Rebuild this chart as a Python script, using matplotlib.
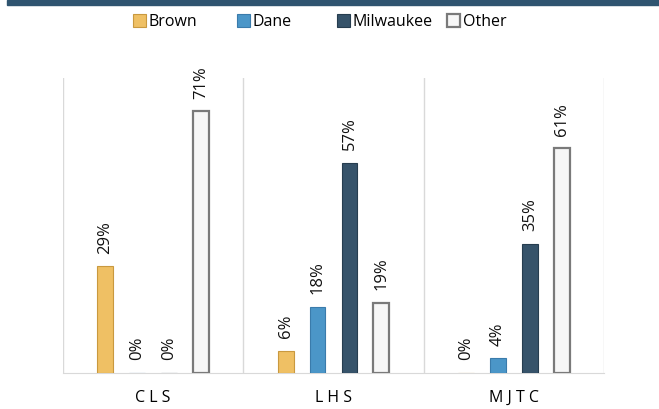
import numpy as np
import matplotlib
matplotlib.use('Agg')
import matplotlib.pyplot as plt
from matplotlib.patches import Rectangle

plt.rcParams['font.family'] = ['Open Sans', 'DejaVu Sans']

categories = ['C L S', 'L H S', 'M J T C']
series = ['Brown', 'Dane', 'Milwaukee', 'Other']
brown = [0.29, 0.06, 0.00]
dane = [0.00, 0.18, 0.04]
milwaukee = [0.00, 0.57, 0.35]
other = [0.71, 0.19, 0.61]
values = [brown, dane, milwaukee, other]

faces = ['#efc064', '#4b96c8', '#36536a', '#f7f7f7']
edges = ['#c9993f', '#3a7bab', '#263d4f', '#7a7a7a']

fig = plt.figure(figsize=(6.59, 4.09), dpi=100)
fig.patches.append(Rectangle((7 / 659, 1 - 5 / 409), 1, 5 / 409, transform=fig.transFigure,
                             color='#2f5470', zorder=0))
ax = fig.add_axes([63 / 659, 1 - 373 / 409, 541 / 659, 295 / 409])

x = np.arange(len(categories))
step = 0.177
width = 0.088
handles = []
for i, (name, vals) in enumerate(zip(series, values)):
    pos = x + (i - 1.5) * step
    lw = 1.6 if name == 'Other' else 0.8
    bars = ax.bar(pos, vals, width, color=faces[i], edgecolor=edges[i], linewidth=lw,
                  label=name, zorder=3)
    handles.append(bars)
    for b, v in zip(bars, vals):
        ax.annotate('{:.0f}%'.format(v * 100), (b.get_x() + b.get_width() / 2, v),
                    xytext=(0, 9), textcoords='offset points', rotation=90,
                    ha='center', va='bottom', fontsize=12, color='#111111')

ax.set_xlim(-0.5, 2.5)
ax.set_ylim(0, 0.8)
ax.set_yticks([])
ax.set_xticks(x)
ax.set_xticklabels(categories, fontsize=11.5)
ax.tick_params(axis='x', length=0, pad=12)
for b in [-0.5, 0.5, 1.5, 2.5]:
    ax.axvline(b, color='#d9d9d9', linewidth=1, zorder=1)
for s in ['top', 'left', 'right']:
    ax.spines[s].set_visible(False)
ax.spines['bottom'].set_color('#d9d9d9')

# legend entries placed like the original (uneven spacing)
leg_x = [133, 237, 337, 447]
for h, name, lx in zip(handles, series, leg_x):
    fig.legend([h], [name], loc='center left', bbox_to_anchor=(lx / 659, 1 - 22 / 409),
               frameon=False, fontsize=11.5, handlelength=0.8, handleheight=0.8,
               handletextpad=0.2, borderpad=0, borderaxespad=0)

fig.savefig('out.png', dpi=100)
